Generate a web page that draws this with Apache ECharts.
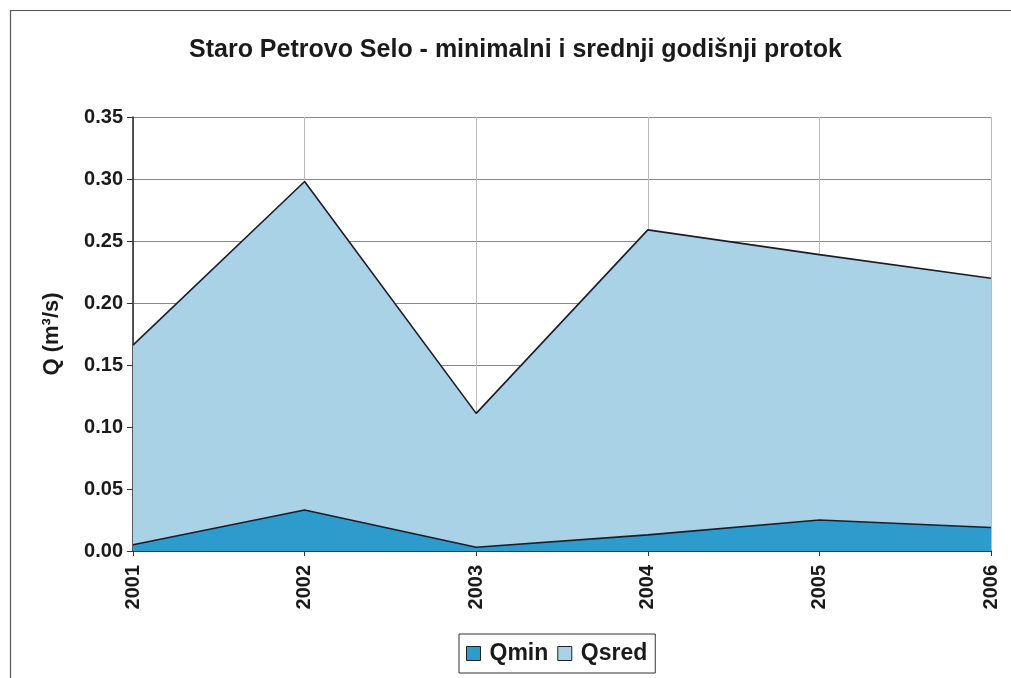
<!DOCTYPE html>
<html>
<head>
<meta charset="utf-8">
<script src="https://cdn.jsdelivr.net/npm/echarts@6/dist/echarts.min.js"></script>
<style>
html,body{margin:0;padding:0;background:#fff;}
#chart{width:1011px;height:678px;}
</style>
</head>
<body>
<div id="chart"></div>
<script>
const titleText = 'Staro Petrovo Selo - minimalni i srednji godišnji protok';
const years = ['2001', '2002', '2003', '2004', '2005', '2006'];
const qmin = [0.005, 0.033, 0.003, 0.013, 0.025, 0.019];
const qsred = [0.166, 0.298, 0.111, 0.259, 0.239, 0.220];
const yTicks = { min: 0, max: 0.35, interval: 0.05 };

const FONT = '"Liberation Sans", Arial, sans-serif';
const chart = echarts.init(document.getElementById('chart'));
chart.setOption({
  animation: false,
  backgroundColor: '#fff',
  title: {
    text: titleText,
    left: 184,
    top: 33,
    textStyle: { fontFamily: FONT, fontSize: 25, fontWeight: 'bold', color: '#1a1a1a' }
  },
  graphic: [{
    type: 'rect', left: 8, top: 8, shape: { width: 1100, height: 800 },
    style: { fill: 'none', stroke: '#555', lineWidth: 1.2 }, silent: true, z: -1
  }],
  legend: {
    data: ['Qmin', 'Qsred'],
    left: 459, top: 634,
    orient: 'horizontal',
    icon: 'rect',
    itemWidth: 14, itemHeight: 14, itemGap: 9,
    borderColor: '#333', borderWidth: 1,
    padding: [8, 8, 8, 7],
    itemStyle: { borderColor: '#222', borderWidth: 1 },
    textStyle: { fontFamily: FONT, fontSize: 23, fontWeight: 'bold', color: '#1a1a1a', padding: [0, 0, 0, 4] }
  },
  grid: { left: 133, right: 20, top: 117, bottom: 127 },
  xAxis: {
    type: 'category',
    data: years,
    boundaryGap: false,
    axisLine: { lineStyle: { color: '#222', width: 1.5 } },
    axisTick: { show: true, length: 5, lineStyle: { color: '#333' } },
    axisLabel: { rotate: 90, margin: 14, fontFamily: FONT, fontSize: 20, fontWeight: 'bold', color: '#1a1a1a' },
    splitLine: { show: true, lineStyle: { color: '#bbb', width: 1 } }
  },
  yAxis: {
    type: 'value',
    min: yTicks.min, max: yTicks.max, interval: yTicks.interval,
    name: 'Q (m³/s)',
    nameLocation: 'middle',
    nameGap: 70,
    nameTextStyle: { fontFamily: FONT, fontSize: 22, fontWeight: 'bold', color: '#1a1a1a' },
    axisLine: { show: true, lineStyle: { color: '#222', width: 1.5 } },
    axisTick: { show: true, length: 6, lineStyle: { color: '#333' } },
    axisLabel: { margin: 10, formatter: v => v.toFixed(2), fontFamily: FONT, fontSize: 20, fontWeight: 'bold', color: '#1a1a1a' },
    splitLine: { show: true, lineStyle: { color: '#888', width: 1 } }
  },
  series: [
    {
      name: 'Qsred', type: 'line', data: qsred,
      showSymbol: false, symbol: 'none',
      itemStyle: { color: '#a9d2e7', borderColor: '#222', borderWidth: 1 },
      lineStyle: { color: '#1c1c28', width: 1.6 },
      areaStyle: { color: '#a9d2e7', opacity: 1 },
      z: 2
    },
    {
      name: 'Qmin', type: 'line', data: qmin,
      showSymbol: false, symbol: 'none',
      itemStyle: { color: '#2d9bcb', borderColor: '#222', borderWidth: 1 },
      lineStyle: { color: '#1c1c28', width: 1.6 },
      areaStyle: { color: '#2d9bcb', opacity: 1 },
      z: 3
    }
  ]
});
</script>
</body>
</html>
